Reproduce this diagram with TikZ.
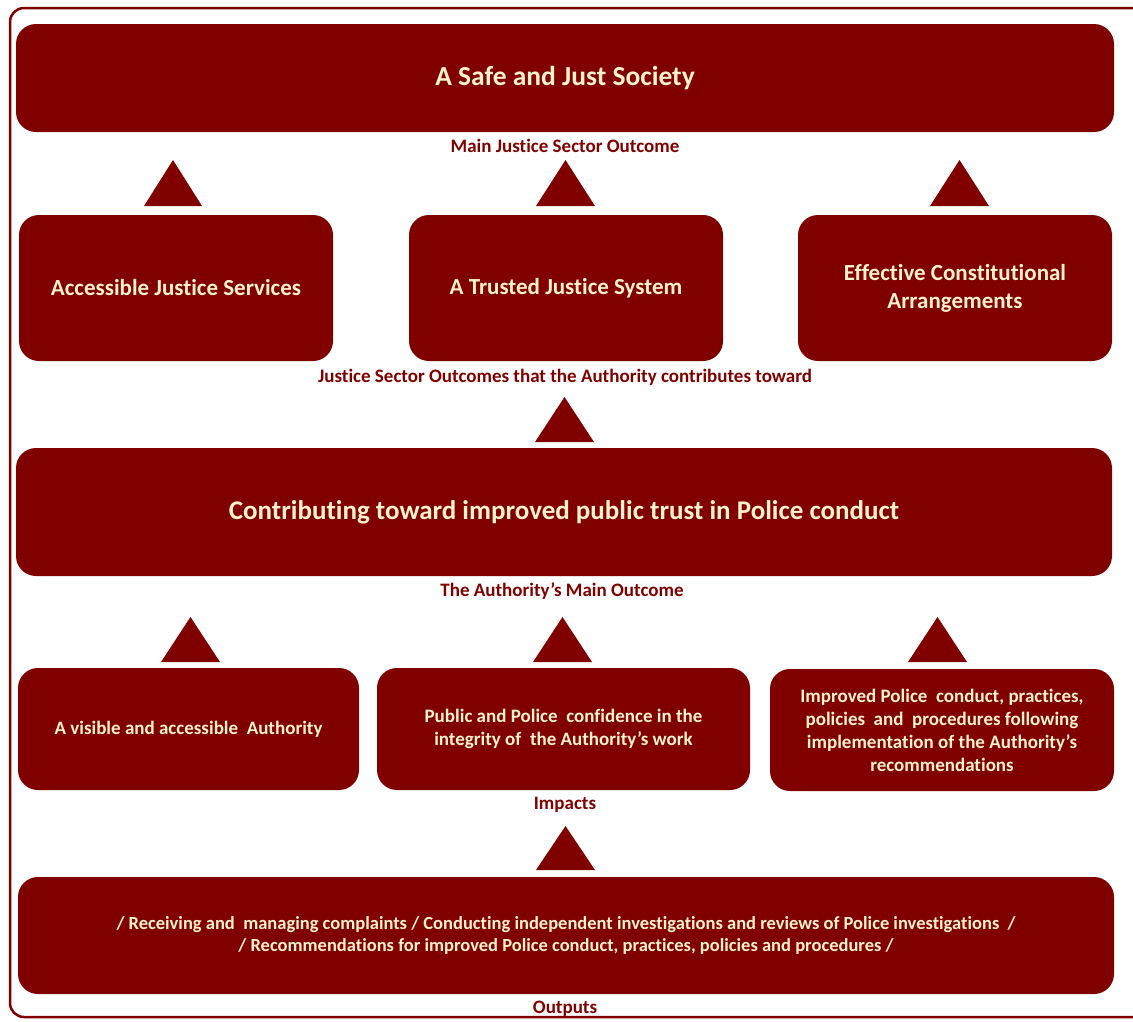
\documentclass[tikz,border=0pt]{standalone}
\usepackage{fontspec}
\setmainfont{Carlito}[Ligatures=NoCommon]
\definecolor{boxred}{RGB}{128,0,0}
\definecolor{cream}{RGB}{255,242,204}
\begin{document}
\begin{tikzpicture}[x=1pt,y=-1pt,
  box/.style={fill=boxred,rounded corners=20pt,text=cream,align=center,inner sep=0pt},
  lbl/.style={text=boxred,font=\bfseries\fontsize{19}{22}\selectfont,inner sep=0pt},
  tri/.style={fill=boxred}]
\useasboundingbox (0,0) rectangle (1133,1021);
\fill[white] (0,0) rectangle (1133,1021);
% outer frame
\draw[boxred,line width=2.5pt,rounded corners=14pt] (1150,8) -- (10,8) -- (10,1017) -- (1150,1017);
% top
\node[box,minimum width=1098pt,minimum height=108pt,font=\bfseries\fontsize{27.5}{32}\selectfont] (top) at (565,78) {A Safe and Just Society};
\node[lbl] (toplbl) at (565,146) {Main Justice Sector Outcome};
% row 2
\node[box,minimum width=314pt,minimum height=146pt,font=\bfseries\fontsize{23}{28}\selectfont] (b1) at (176,288) {Accessible Justice Services};
\node[box,minimum width=314pt,minimum height=146pt,font=\bfseries\fontsize{23}{28}\selectfont] (b2) at (566,288) {A Trusted Justice System};
\node[box,minimum width=314pt,minimum height=146pt,font=\bfseries\fontsize{23}{28}\selectfont] (b3) at (955,288) {Effective Constitutional\\Arrangements};
\node[lbl] (rowlbl) at (565,377) {Justice Sector Outcomes that the Authority contributes toward};
\fill[tri] (144,206) -- (173,160) -- (202,206) -- cycle;
\fill[tri] (536,206) -- (565.5,160) -- (595,206) -- cycle;
\fill[tri] (930,206) -- (959.5,160) -- (989,206) -- cycle;
% main
\fill[tri] (535,442) -- (564.5,397) -- (594,442) -- cycle;
\node[box,minimum width=1096pt,minimum height=128pt,font=\bfseries\fontsize{27}{32}\selectfont] (main) at (564,512) {Contributing toward improved public trust in Police conduct};
\node[lbl] (mainlbl) at (562,591) {The Authority’s Main Outcome};
% row 3
\fill[tri] (161,662) -- (190.5,617) -- (220,662) -- cycle;
\fill[tri] (533,662) -- (562.5,617) -- (592,662) -- cycle;
\fill[tri] (908,662) -- (937.5,617) -- (967,662) -- cycle;
\node[box,minimum width=341pt,minimum height=122pt,font=\bfseries\fontsize{19}{23}\selectfont] (c1) at (188.5,729) {A visible and accessible\ \ Authority};
\node[box,minimum width=373pt,minimum height=122pt,font=\bfseries\fontsize{19}{23}\selectfont] (c2) at (563.5,729) {Public and Police\ \ confidence in the\\integrity of\ \ the Authority’s work};
\node[box,minimum width=344pt,minimum height=122pt,font=\bfseries\fontsize{19}{23}\selectfont] (c3) at (942,730) {Improved Police\ \ conduct, practices,\\policies\ \ and\ \ procedures following\\implementation of the Authority’s\\recommendations};
\node[lbl] (implbl) at (565,805) {Impacts};
% bottom
\fill[tri] (536,870) -- (565.5,826) -- (595,870) -- cycle;
\node[box,minimum width=1096pt,minimum height=117pt,font=\bfseries\fontsize{18.5}{22}\selectfont] (bot) at (566,935.5) {/ Receiving and\ \ managing complaints / Conducting independent investigations and reviews of Police investigations\ \ /\\/ Recommendations for improved Police conduct, practices, policies and procedures /};
\node[lbl] (outlbl) at (565,1009) {Outputs};
\end{tikzpicture}
\end{document}
